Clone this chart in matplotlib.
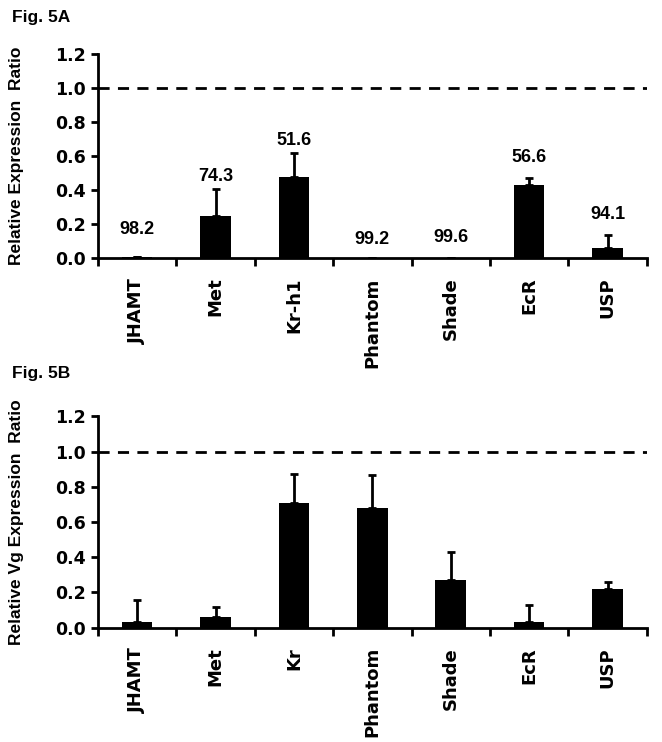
import matplotlib.pyplot as plt
import numpy as np

genes_a = ["JHAMT", "Met", "Kr-h1", "Phantom", "Shade", "EcR", "USP"]
ratio_a = [0.01, 0.25, 0.48, 0.0, 0.0, 0.43, 0.06]
err_a = [0.0, 0.155, 0.14, 0.0, 0.0, 0.04, 0.075]
pct_a = ["98.2", "74.3", "51.6", "99.2", "99.6", "56.6", "94.1"]
pct_y = [0.17, 0.48, 0.69, 0.11, 0.12, 0.59, 0.26]

genes_b = ["JHAMT", "Met", "Kr", "Phantom", "Shade", "EcR", "USP"]
ratio_b = [0.035, 0.06, 0.707, 0.68, 0.27, 0.03, 0.22]
err_b = [0.125, 0.055, 0.165, 0.185, 0.16, 0.10, 0.04]

yticks = [0.0, 0.2, 0.4, 0.6, 0.8, 1.0, 1.2]

heavy = "DejaVu Sans"
arial = "Liberation Sans"

fig = plt.figure(figsize=(6.62, 7.42), dpi=100)


def panel(rect, genes, vals, errs, ylabel, title, title_y):
    ax = fig.add_axes(rect)
    x = np.arange(len(genes))
    ax.bar(x, vals, width=0.39, color="black", zorder=3)
    ax.errorbar(x, vals, yerr=[np.zeros(len(errs)), errs], fmt="none",
                ecolor="black", elinewidth=2, capsize=3, capthick=2, zorder=2)
    ax.axhline(1.0, color="black", ls=(0, (4, 3)), lw=2, zorder=1)
    ax.set_xlim(-0.5, len(genes) - 0.5)
    ax.set_ylim(0, 1.2)
    ax.set_yticks(yticks)
    ax.set_yticklabels(["%.1f" % t for t in yticks], fontfamily=heavy,
                       fontweight="heavy", fontsize=12.5)
    ax.set_xticks(x)
    ax.set_xticklabels(genes, rotation=90, fontfamily=heavy,
                       fontweight="heavy", fontsize=13)
    ax.set_xticks(np.arange(len(genes) + 1) - 0.5, minor=True)
    ax.tick_params(axis="x", which="major", length=0, pad=14)
    ax.tick_params(axis="x", which="minor", length=6, width=2, direction="out")
    ax.tick_params(axis="y", length=5, width=2, direction="out", pad=4)
    for s in ["top", "right"]:
        ax.spines[s].set_visible(False)
    for s in ["left", "bottom"]:
        ax.spines[s].set_linewidth(2)
    ax.set_ylabel(ylabel, fontfamily=arial, fontweight="bold", fontsize=12.5)
    ax.yaxis.set_label_coords(-0.135, 0.5)
    fig.text(0.018, title_y, title, fontfamily=arial, fontweight="bold",
             fontsize=12.5, va="center")
    return ax


ax_a = panel([0.148, 0.652, 0.829, 0.275], genes_a, ratio_a, err_a,
             "Relative Expression  Ratio", "Fig. 5A", 0.977)
for i, (lbl, yy) in enumerate(zip(pct_a, pct_y)):
    ax_a.text(i, yy, lbl, ha="center", va="center", fontfamily=arial,
              fontweight="bold", fontsize=13)

ax_b = panel([0.148, 0.154, 0.829, 0.285], genes_b, ratio_b, err_b,
             "Relative Vg Expression  Ratio", "Fig. 5B", 0.497)

fig.savefig("out.png", dpi=100)
